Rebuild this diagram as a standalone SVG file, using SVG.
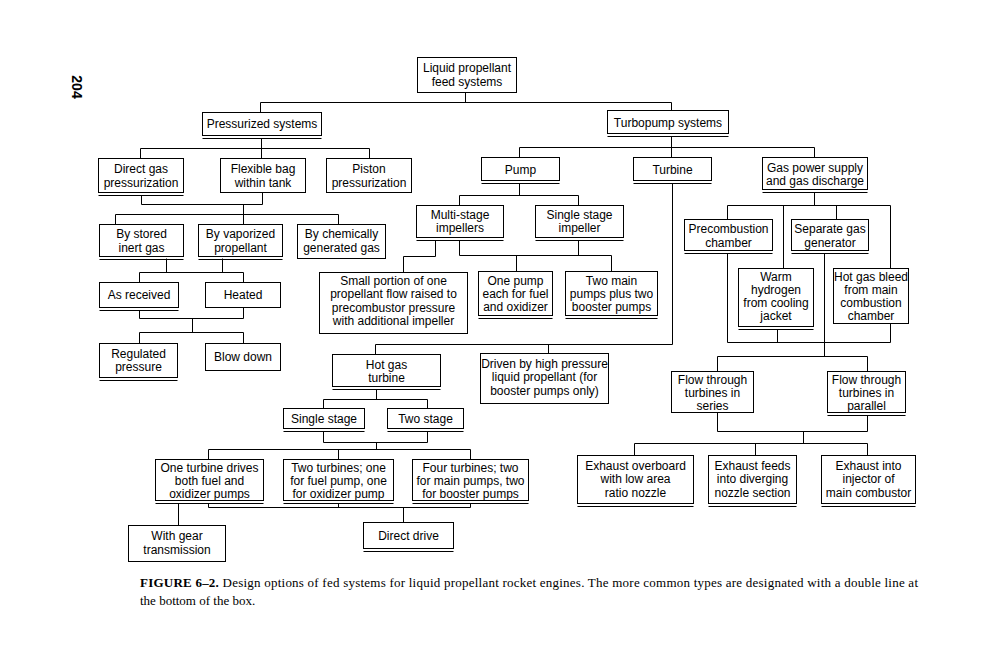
<svg xmlns="http://www.w3.org/2000/svg" width="992" height="660" viewBox="0 0 992 660">
<style>
.b{fill:#fff;stroke:#000;stroke-width:1}
.d{stroke:#000;stroke-width:1;fill:none}
.c{stroke:#000;stroke-width:1;fill:none}
text{font-family:"Liberation Sans",Arial,sans-serif;font-size:12px;fill:#000;text-anchor:middle}
.cap{font-family:"Liberation Serif","Times New Roman",serif;font-size:13px;text-anchor:start}
</style>
<rect x="0" y="0" width="992" height="660" fill="#fff"/>
<text transform="translate(72,87) rotate(90)" style="font-weight:bold;font-size:14px">204</text>
<g transform="translate(0.5,0.5)">
<g id="connectors">
<path class="c" d="M465 92V102 M260 102H671 M260 102V112 M671 102V110
M261 138V148 M140 148H369 M140 148V158 M261 148V158 M369 148V158
M141 195V204 M262 192V204 M141 204H262 M243 204V224 M115 214H338 M115 214V224 M338 214V224
M166 258V272 M222 258V272 M139 272H243 M139 272V282 M243 272V282
M139 310V318 M243 307V318 M139 318H243 M192 318V332 M139 332H243 M139 332V343 M243 332V343
M671 136V147 M519 147H814 M519 147V157 M671 147V157 M814 147V157
M519 183V195 M459 195H578 M459 195V205 M578 195V205
M435 240V256 M403 256H435 M403 256V272 M459 240V255 M578 240V255 M459 255H611 M516 255V271 M611 255V271
M672 183V344 M375 344H672 M375 344V354 M548 344V353
M376 389V399 M323 399H427 M323 399V408 M427 399V408 M323 431V442 M427 431V442 M323 442H427 M376 442V449 M208 449H470 M208 449V459 M338 449V459 M470 449V459
M208 503V507 M338 503V507 M470 503V507 M208 507H470 M403 507V522 M178 503V525
M814 192V205 M727 205H890 M727 205V219 M783 205V268 M836 205V219 M890 205V268
M727 253V342 M777 329V342 M890 323V342 M727 342H890 M824 253V356 M717 356H867 M717 356V371 M867 356V371
M717 412V431 M867 415V431 M717 431H867 M803 431V443 M634 443H867 M634 443V455 M755 443V455 M867 443V455"/>
</g>
<g id="n-root"><rect class="b" x="417" y="57" width="99" height="35"/><text x="466.5" y="71">Liquid propellant</text><text x="466.5" y="85">feed systems</text></g>
<g id="n-pressurized"><rect class="b" x="202" y="112" width="119" height="23"/><path class="d" d="M202 138H321"/><text x="261.5" y="127.5">Pressurized systems</text></g>
<g id="n-turbopump"><rect class="b" x="607" y="110" width="121" height="23"/><path class="d" d="M607 136H728"/><text x="667.5" y="126">Turbopump systems</text></g>
<g id="n-direct"><rect class="b" x="98" y="158" width="85" height="34"/><path class="d" d="M98 195H183"/><text x="140.5" y="172">Direct gas</text><text x="140.5" y="186">pressurization</text></g>
<g id="n-flexible"><rect class="b" x="220" y="158" width="85" height="34"/><text x="262.5" y="172">Flexible bag</text><text x="262.5" y="186">within tank</text></g>
<g id="n-piston"><rect class="b" x="326" y="158" width="85" height="34"/><text x="368.5" y="172">Piston</text><text x="368.5" y="186">pressurization</text></g>
<g id="n-pump"><rect class="b" x="481" y="157" width="78" height="23"/><path class="d" d="M481 183H559"/><text x="520" y="173">Pump</text></g>
<g id="n-turbine"><rect class="b" x="633" y="157" width="78" height="23"/><path class="d" d="M633 183H711"/><text x="672" y="173">Turbine</text></g>
<g id="n-gaspower"><rect class="b" x="762" y="157" width="105" height="32"/><path class="d" d="M762 192H867"/><text x="814.5" y="171">Gas power supply</text><text x="814.5" y="184">and gas discharge</text></g>
<g id="n-stored"><rect class="b" x="99" y="224" width="84" height="32"/><path class="d" d="M99 259H183"/><text x="141" y="237">By stored</text><text x="141" y="251">inert gas</text></g>
<g id="n-vaporized"><rect class="b" x="198" y="224" width="84" height="32"/><path class="d" d="M198 259H282"/><text x="240" y="237">By vaporized</text><text x="240" y="251">propellant</text></g>
<g id="n-chemically"><rect class="b" x="297" y="224" width="88" height="34"/><text x="341" y="237">By chemically</text><text x="341" y="251">generated gas</text></g>
<g id="n-multistage"><rect class="b" x="416" y="205" width="87" height="32"/><path class="d" d="M416 240H503"/><text x="459.5" y="218">Multi-stage</text><text x="459.5" y="231">impellers</text></g>
<g id="n-singleimp"><rect class="b" x="535" y="205" width="88" height="32"/><path class="d" d="M535 240H623"/><text x="579" y="218">Single stage</text><text x="579" y="231">impeller</text></g>
<g id="n-precomb"><rect class="b" x="684" y="219" width="88" height="31"/><path class="d" d="M684 253H772"/><text x="728" y="232">Precombustion</text><text x="728" y="246">chamber</text></g>
<g id="n-separate"><rect class="b" x="791" y="219" width="77" height="31"/><path class="d" d="M791 253H868"/><text x="829.5" y="232">Separate gas</text><text x="829.5" y="246">generator</text></g>
<g id="n-asreceived"><rect class="b" x="99" y="282" width="79" height="25"/><path class="d" d="M99 310H178"/><text x="138.5" y="298.5">As received</text></g>
<g id="n-heated"><rect class="b" x="205" y="282" width="75" height="25"/><text x="242.5" y="298.5">Heated</text></g>
<g id="n-smallportion"><rect class="b" x="319" y="272" width="148" height="61"/><text x="393" y="284">Small portion of one</text><text x="393" y="297">propellant flow raised to</text><text x="393" y="311">precombustor pressure</text><text x="393" y="324">with additional impeller</text></g>
<g id="n-onepump"><rect class="b" x="478" y="271" width="74" height="44"/><path class="d" d="M478 318H552"/><text x="515" y="284">One pump</text><text x="515" y="297">each for fuel</text><text x="515" y="310">and oxidizer</text></g>
<g id="n-twomain"><rect class="b" x="565" y="271" width="92" height="44"/><path class="d" d="M565 318H657"/><text x="611" y="284">Two main</text><text x="611" y="297">pumps plus two</text><text x="611" y="310">booster pumps</text></g>
<g id="n-warm"><rect class="b" x="738" y="268" width="75" height="58"/><path class="d" d="M738 329H813"/><text x="775.5" y="280">Warm</text><text x="775.5" y="293">hydrogen</text><text x="775.5" y="306">from cooling</text><text x="775.5" y="319">jacket</text></g>
<g id="n-hotbleed"><rect class="b" x="833" y="268" width="75" height="55"/><text x="870.5" y="280">Hot gas bleed</text><text x="870.5" y="293">from main</text><text x="870.5" y="306">combustion</text><text x="870.5" y="319">chamber</text></g>
<g id="n-regulated"><rect class="b" x="99" y="343" width="78" height="34"/><path class="d" d="M99 380H177"/><text x="138" y="357">Regulated</text><text x="138" y="370">pressure</text></g>
<g id="n-blowdown"><rect class="b" x="205" y="343" width="75" height="27"/><text x="242.5" y="360">Blow down</text></g>
<g id="n-hotgasturbine"><rect class="b" x="332" y="354" width="108" height="32"/><path class="d" d="M332 389H440"/><text x="386" y="368">Hot gas</text><text x="386" y="381">turbine</text></g>
<g id="n-driven"><rect class="b" x="480" y="353" width="128" height="50"/><text x="544" y="367">Driven by high pressure</text><text x="544" y="380.5">liquid propellant (for</text><text x="544" y="394">booster pumps only)</text></g>
<g id="n-series"><rect class="b" x="671" y="371" width="82" height="41"/><text x="712" y="383">Flow through</text><text x="712" y="396">turbines in</text><text x="712" y="409">series</text></g>
<g id="n-parallel"><rect class="b" x="827" y="371" width="78" height="41"/><path class="d" d="M827 415H905"/><text x="866" y="383">Flow through</text><text x="866" y="396">turbines in</text><text x="866" y="409">parallel</text></g>
<g id="n-singlestage"><rect class="b" x="283" y="408" width="81" height="20"/><path class="d" d="M283 431H364"/><text x="323.5" y="422">Single stage</text></g>
<g id="n-twostage"><rect class="b" x="387" y="408" width="76" height="20"/><path class="d" d="M387 431H463"/><text x="425" y="422">Two stage</text></g>
<g id="n-oneturbine"><rect class="b" x="155" y="459" width="108" height="41"/><path class="d" d="M155 503H263"/><text x="209" y="471">One turbine drives</text><text x="209" y="484">both fuel and</text><text x="209" y="497">oxidizer pumps</text></g>
<g id="n-twoturbines"><rect class="b" x="283" y="459" width="110" height="41"/><path class="d" d="M283 503H393"/><text x="338" y="471">Two turbines; one</text><text x="338" y="484">for fuel pump, one</text><text x="338" y="497">for oxidizer pump</text></g>
<g id="n-fourturbines"><rect class="b" x="412" y="459" width="116" height="41"/><path class="d" d="M412 503H528"/><text x="470" y="471">Four turbines; two</text><text x="470" y="484">for main pumps, two</text><text x="470" y="497">for booster pumps</text></g>
<g id="n-exhaustoverboard"><rect class="b" x="577" y="455" width="116" height="48"/><path class="d" d="M577 506H693"/><text x="635" y="469">Exhaust overboard</text><text x="635" y="482">with low area</text><text x="635" y="496">ratio nozzle</text></g>
<g id="n-exhaustfeeds"><rect class="b" x="708" y="455" width="88" height="48"/><path class="d" d="M708 506H796"/><text x="752" y="469">Exhaust feeds</text><text x="752" y="482">into diverging</text><text x="752" y="496">nozzle section</text></g>
<g id="n-exhaustinto"><rect class="b" x="821" y="455" width="94" height="48"/><path class="d" d="M821 506H915"/><text x="868" y="469">Exhaust into</text><text x="868" y="482">injector of</text><text x="868" y="496">main combustor</text></g>
<g id="n-gear"><rect class="b" x="128" y="525" width="97" height="36"/><text x="176.5" y="539">With gear</text><text x="176.5" y="553">transmission</text></g>
<g id="n-directdrive"><rect class="b" x="363" y="522" width="90" height="26"/><path class="d" d="M363 551H453"/><text x="408" y="539.5">Direct drive</text></g>
</g>
<text class="cap" x="140" y="587" textLength="778" lengthAdjust="spacing"><tspan style="font-weight:bold">FIGURE 6–2.</tspan> Design options of fed systems for liquid propellant rocket engines. The more common types are designated with a double line at</text>
<text class="cap" x="140" y="605">the bottom of the box.</text>
</svg>
